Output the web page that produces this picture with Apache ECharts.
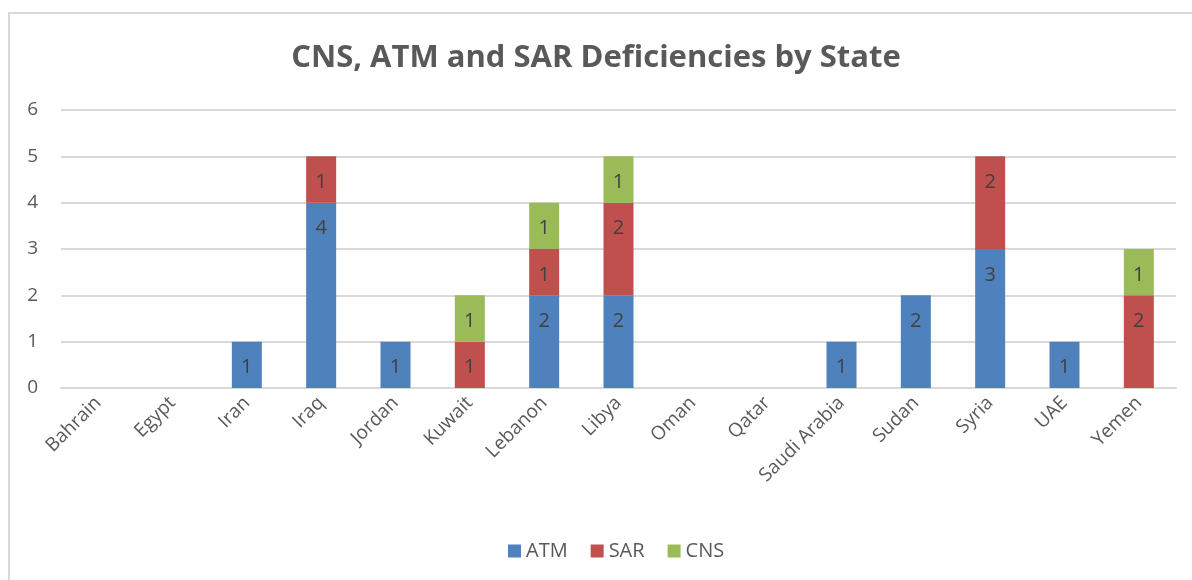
<!DOCTYPE html>
<html>
<head>
    <meta charset="UTF-8">
    <title>CNS, ATM and SAR Deficiencies by State</title>
    <script src="https://cdn.jsdelivr.net/npm/echarts@6/dist/echarts.min.js"></script>
    <style>
        body, html {
            margin: 0;
            padding: 0;
            width: 1192px;
            height: 580px;
            overflow: hidden;
            background: #fff;
        }

        #frame {
            position: absolute;
            left: 8px;
            top: 12px;
            width: 1400px;
            height: 800px;
            border: 2px solid #d9d9d9;
        }

        #chart {
            position: absolute;
            left: 0;
            top: 0;
            width: 1192px;
            height: 580px;
        }
    </style>
</head>
<body>
<div id="frame"></div>
<div id="chart"></div>
<script>
    var states = ['Bahrain', 'Egypt', 'Iran', 'Iraq', 'Jordan', 'Kuwait', 'Lebanon', 'Libya',
        'Oman', 'Qatar', 'Saudi Arabia', 'Sudan', 'Syria', 'UAE', 'Yemen'];
    var atm = [0, 0, 1, 4, 1, 0, 2, 2, 0, 0, 1, 2, 3, 1, 0];
    var sar = [0, 0, 0, 1, 0, 1, 1, 2, 0, 0, 0, 0, 2, 0, 2];
    var cns = [0, 0, 0, 0, 0, 1, 1, 1, 0, 0, 0, 0, 0, 0, 1];
    var yTicks = [0, 1, 2, 3, 4, 5, 6];

    var font = 'Open Sans';
    var textGray = '#595959';

    function barSeries(name, data, color) {
        return {
            name: name,
            type: 'bar',
            stack: 'total',
            barWidth: 30,
            // hide zero segments so no "0" labels show
            data: data.map(function (v) { return v === 0 ? null : v; }),
            itemStyle: {color: color},
            label: {
                show: true,
                position: 'insideTop',
                distance: 16,
                color: '#404040',
                fontFamily: font,
                fontSize: 20
            }
        };
    }

    var chart = echarts.init(document.getElementById('chart'), null, {renderer: 'canvas'});
    chart.setOption({
        animation: false,
        title: {
            text: 'CNS, ATM and SAR Deficiencies by State',
            left: 'center',
            top: 38,
            textStyle: {
                fontFamily: font,
                fontWeight: 'bold',
                fontSize: 31,
                color: textGray
            }
        },
        legend: {
            bottom: 14,
            left: 503,
            itemWidth: 13,
            itemHeight: 13,
            itemGap: 23,
            icon: 'rect',
            textStyle: {fontFamily: font, fontSize: 20, color: textGray},
            data: ['ATM', 'SAR', 'CNS']
        },
        grid: {left: 61, right: 16, top: 110, bottom: 192, containLabel: false},
        xAxis: {
            type: 'category',
            data: states,
            axisLine: {lineStyle: {color: '#d9d9d9', width: 2}},
            axisTick: {show: false},
            axisLabel: {
                rotate: 45,
                margin: 12,
                interval: 0,
                fontFamily: font,
                fontSize: 19,
                color: textGray
            }
        },
        yAxis: {
            type: 'value',
            min: yTicks[0],
            max: yTicks[yTicks.length - 1],
            interval: 1,
            axisLine: {show: false},
            axisTick: {show: false},
            splitLine: {lineStyle: {color: '#d9d9d9', width: 2}},
            axisLabel: {
                margin: 23,
                fontFamily: font,
                fontSize: 19,
                color: textGray
            }
        },
        series: [
            barSeries('ATM', atm, '#4f81bd'),
            barSeries('SAR', sar, '#c0504d'),
            barSeries('CNS', cns, '#9bbb59')
        ]
    });
</script>
</body>
</html>
